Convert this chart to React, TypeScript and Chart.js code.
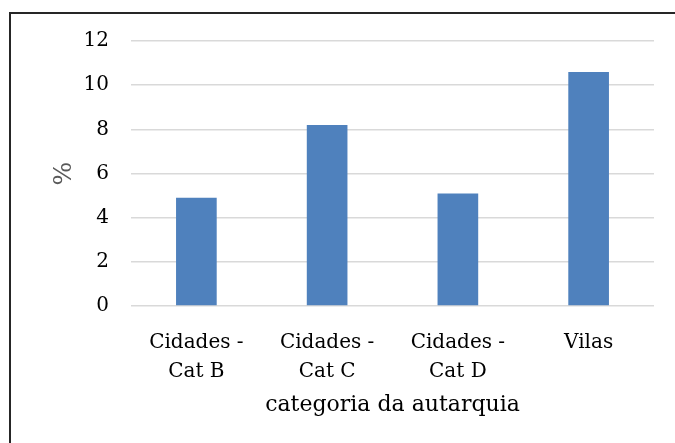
import React, { useEffect, useRef } from "react";
import { Chart, registerables } from "chart.js";

Chart.register(...registerables);

const categories: (string | string[])[] = [
  ["Cidades -", "Cat B"],
  ["Cidades -", "Cat C"],
  ["Cidades -", "Cat D"],
  "Vilas",
];
const values: number[] = [4.9, 8.2, 5.1, 10.6];
const yTitle = "%";
const xTitle = "categoria da autarquia";

const FONT = "'DejaVu Serif', serif";

export default function App() {
  const ref = useRef<HTMLCanvasElement | null>(null);

  useEffect(() => {
    if (!ref.current) return;
    const chart = new Chart(ref.current, {
      type: "bar",
      data: {
        labels: categories,
        datasets: [
          {
            data: values,
            backgroundColor: "#4F81BD",
            borderWidth: 0,
            categoryPercentage: 1,
            barPercentage: 0.311,
          },
        ],
      },
      options: {
        animation: false,
        responsive: false,
        maintainAspectRatio: false,
        layout: { padding: { left: 40, right: 21, top: 41, bottom: 0 } },
        plugins: { legend: { display: false }, tooltip: { enabled: false } },
        scales: {
          x: {
            grid: { display: false },
            border: { display: false },
            ticks: {
              color: "#000",
              font: { family: FONT, size: 20, lineHeight: 1.45 },
              padding: 14,
              maxRotation: 0,
              autoSkip: false,
            },
            title: {
              display: true,
              text: xTitle,
              color: "#000",
              font: { family: FONT, size: 22 },
              padding: { top: 0, bottom: 25 },
            },
            afterFit: (s: any) => {
              s.height = 137;
            },
          },
          y: {
            min: 0,
            max: 12,
            ticks: {
              stepSize: 2,
              color: "#000",
              font: { family: FONT, size: 20 },
              padding: 22,
            },
            grid: { color: "#D9D9D9", lineWidth: 1.5, drawTicks: false },
            border: { display: false },
            title: {
              display: true,
              text: yTitle,
              color: "#595959",
              font: { family: FONT, size: 25 },
              padding: { top: 9, bottom: 0 },
            },
            afterFit: (s: any) => {
              s.width = 91;
            },
          },
        },
      },
    });
    return () => chart.destroy();
  }, []);

  return (
    <div
      style={{
        position: "absolute",
        left: 0,
        top: 0,
        width: 675,
        height: 443,
        overflow: "hidden",
        background: "#fff",
      }}
    >
      <div
        style={{
          position: "absolute",
          left: 9,
          top: 12,
          width: 700,
          height: 500,
          borderTop: "2px solid #262626",
          borderLeft: "2px solid #262626",
        }}
      />
      <canvas
        ref={ref}
        width={675}
        height={443}
        style={{ position: "absolute", left: 0, top: 0, width: 675, height: 443 }}
      />
    </div>
  );
}
